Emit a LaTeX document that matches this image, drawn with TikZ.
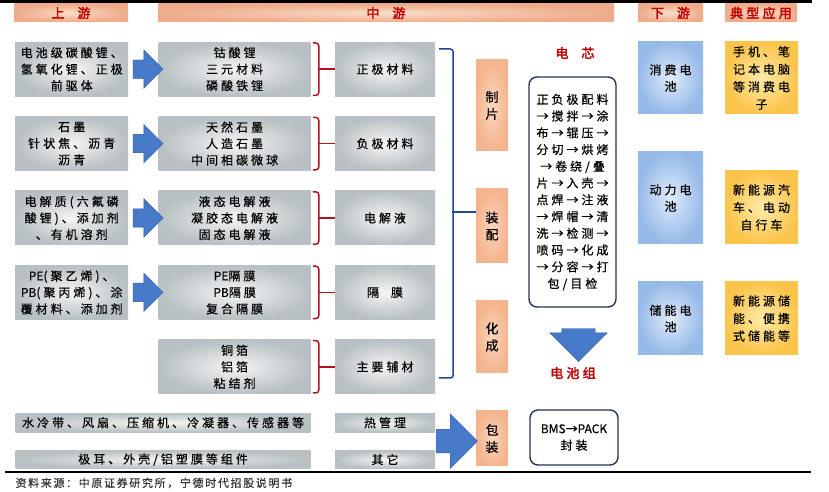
\documentclass[tikz,border=0pt]{standalone}
\usepackage{fontspec}
\setmainfont{Noto Sans CJK SC}[LetterSpace=25,FakeBold=0.5,AutoFakeBold=2.5]
\usepackage{tikz}
\usetikzlibrary{positioning,calc,shapes.arrows}

\definecolor{boxmid}{RGB}{245,245,245}
\definecolor{boxedge}{RGB}{184,192,195}
\definecolor{headmid}{RGB}{251,220,200}
\definecolor{headedge}{RGB}{238,172,138}
\definecolor{stepmid}{RGB}{251,214,188}
\definecolor{stepedge}{RGB}{244,180,142}
\definecolor{usemid}{RGB}{224,235,250}
\definecolor{useedge}{RGB}{150,186,232}
\definecolor{appmid}{RGB}{255,234,170}
\definecolor{appedge}{RGB}{252,196,74}
\definecolor{arrowblue}{RGB}{72,122,202}
\definecolor{arrowline}{RGB}{48,88,168}
\definecolor{titlered}{RGB}{192,0,0}
\definecolor{bracered}{RGB}{180,16,32}
\definecolor{braceblue}{RGB}{30,70,150}
\definecolor{cellline}{RGB}{40,50,80}

\newcommand{\tightlat}[1]{{\addfontfeature{LetterSpace=0}#1}}

\begin{document}
\begin{tikzpicture}[x=1pt, y=1pt,
  every node/.style={font=\fontsize{12}{16.5}\selectfont},
  graybox/.style={rectangle, inner sep=1pt, align=center, minimum height=54pt,
    shading=radial, inner color=boxmid, outer color=boxedge},
  headbox/.style={rectangle, inner sep=0pt, minimum height=18pt, text=titlered,
    font=\fontsize{13}{15}\selectfont\bfseries, shading=radial, inner color=headmid, outer color=headedge},
  stepbox/.style={rectangle, inner sep=0pt, minimum width=32pt, align=center,
    font=\fontsize{13}{17}\selectfont, shading=radial, inner color=stepmid, outer color=stepedge},
  usebox/.style={rectangle, inner sep=0pt, minimum width=65pt, align=center,
    shading=radial, inner color=usemid, outer color=useedge},
  appbox/.style={rectangle, inner sep=0pt, minimum width=73pt, minimum height=73pt, align=center,
    font=\fontsize{12}{17.5}\selectfont, shading=radial, inner color=appmid, outer color=appedge},
  blockarrow/.style={single arrow, fill=arrowblue, draw=arrowline, line width=0.4pt,
    inner xsep=0pt, inner ysep=9pt, minimum height=30pt, single arrow head extend=10pt},
  cellbox/.style={rectangle, rounded corners=8pt, draw=cellline, line width=1.4pt, fill=white, align=center},
  redtitle/.style={text=titlered, font=\fontsize{13}{15}\selectfont\bfseries},
  redbrace/.style={draw=bracered, line width=1.5pt, rounded corners=3pt},
  bluebrace/.style={draw=braceblue, line width=1.5pt, rounded corners=3pt}]

\useasboundingbox (0,0) rectangle (829,492);

% header
\draw[line width=3pt] (0,490.5) -- (812,490.5);
\node[headbox, minimum width=114pt] (hup) at (71,479) {上\quad 游};
\node[headbox, minimum width=456pt] (hmid) at (386,479) {中\quad 游};
\node[headbox, minimum width=65pt] (hdown) at (670.5,479) {下\quad 游};
\node[headbox, minimum width=72pt] (happ) at (761,479) {典型应用};

% upstream -> midstream materials
\node[graybox, minimum width=113pt, anchor=north west] (src1) at (15,450) {电池级碳酸锂、\\氢氧化锂、正极\\前驱体};
\node[graybox, minimum width=152pt, right=30pt of src1] (mid1) {钴酸锂\\三元材料\\磷酸铁锂};
\node[graybox, minimum width=100pt, right=24pt of mid1] (mat1) {正极材料};

\node[graybox, minimum width=113pt, below=20pt of src1] (src2) {石墨\\针状焦、沥青\\沥青};
\node[graybox, minimum width=152pt, below=20pt of mid1] (mid2) {天然石墨\\人造石墨\\中间相碳微球};
\node[graybox, minimum width=100pt, below=20pt of mat1] (mat2) {负极材料};

\node[graybox, minimum width=113pt, below=20pt of src2] (src3) {电解质(六氟磷\\酸锂)、添加剂\\、有机溶剂};
\node[graybox, minimum width=152pt, below=20pt of mid2] (mid3) {液态电解液\\凝胶态电解液\\固态电解液};
\node[graybox, minimum width=100pt, below=20pt of mat2] (mat3) {电解液};

\node[graybox, minimum width=113pt, below=20pt of src3] (src4) {\tightlat{PE}(聚乙烯)、\\\tightlat{PB}(聚丙烯)、涂\\覆材料、添加剂};
\node[graybox, minimum width=152pt, below=20pt of mid3] (mid4) {\tightlat{PE}隔膜\\\tightlat{PB}隔膜\\复合隔膜};
\node[graybox, minimum width=100pt, below=20pt of mat3] (mat4) {隔\quad 膜};

\node[graybox, minimum width=152pt, below=20pt of mid4] (mid5) {铜箔\\铝箔\\粘结剂};
\node[graybox, minimum width=100pt, below=20pt of mat4] (mat5) {主要辅材};

% pack parts
\node[graybox, minimum width=100pt, minimum height=19pt, below=19pt of mat5] (heat) {热管理};
\node[graybox, minimum width=100pt, minimum height=18pt, below=18pt of heat] (other) {其它};
\node[graybox, minimum width=295pt, minimum height=19pt, left=24pt of heat] (cooling) {水冷带、风扇、压缩机、冷凝器、传感器等};
\node[graybox, minimum width=295pt, minimum height=18pt, left=24pt of other] (shell) {极耳、外壳/铝塑膜等组件};

\foreach \i in {1,...,4}
  \node[blockarrow] (arr\i) at ($(src\i.east)!0.5!(mid\i.west)$) {};

\foreach \i in {1,...,5} {
  \draw[redbrace] ([xshift=2pt,yshift=-1pt]mid\i.north east) -- ++(6,0)
    -- ([xshift=8pt,yshift=1pt]mid\i.south east) -- ++(-6,0);
  \draw[redbrace] ([xshift=8pt]mid\i.east) -- (mat\i.west);
}

% process steps
\node[stepbox, minimum height=91pt] (sheet) at (492,386.5) {制\\片};
\node[stepbox, minimum height=74pt] (assembly) at (492,266) {装\\配};
\node[stepbox, minimum height=72pt] (formation) at (492,155) {化\\成};
\node[stepbox, minimum height=55pt] (packing) at (492,53.5) {包\\装};

\draw[bluebrace] ($(mat1.north east)+(4,-7)$) -- ++(14,0) |- ($(mat5.south east)+(4,16)$);
\draw[bluebrace] ([yshift=14pt]assembly.west) -- ++(-24,0);

\node[blockarrow, inner ysep=11.5pt, minimum height=41pt, single arrow head extend=15.5pt, anchor=west]
  (packarrow) at ($(heat.east)!0.5!(other.east)+(1,0)$) {};

% cell and pack
\node[redtitle] (celltitle) at (575,439) {电\quad 芯};
\node[cellbox, minimum width=87pt, minimum height=230pt, font=\fontsize{12}{16.75}\selectfont] (cell) at (572.5,300)
  {正负极配料\\→搅拌→涂\\布→辊压→\\分切→烘烤\\→卷绕/叠\\片→入壳→\\点焊→注液\\→焊帽→清\\洗→检测→\\喷码→化成\\→分容→打\\包/目检};
\node[blockarrow, inner xsep=16.5pt, inner ysep=0pt, minimum height=33pt, single arrow head extend=12pt, shape border rotate=270]
  (cellarrow) at ($(cell.south)+(6,-29)$) {};
\node[redtitle] (packtitle) at (573,119) {电池组};
\node[cellbox, minimum width=88pt, minimum height=55pt] (bms) at (574,54.5)
  {\tightlat{BMS→PACK}\\封装};

% downstream and applications
\node[usebox, minimum height=72pt] (use1) at (670.5,414) {消费电\\池};
\node[usebox, minimum height=92pt] (use2) at (670.5,294) {动力电\\池};
\node[usebox, minimum height=73pt] (use3) at (670.5,173.5) {储能电\\池};
\node[appbox, minimum height=72pt] (app1) at (761.5,414) {手机、笔\\记本电脑\\等消费电\\子};
\node[appbox] (app2) at (761.5,284.5) {新能源汽\\车、电动\\自行车};
\node[appbox] (app3) at (761.5,173.5) {新能源储\\能、便携\\式储能等};

% source
\draw[line width=2pt] (5,20) -- (811,20);
\node[anchor=west, text=black!80, font=\fontsize{11}{13}\selectfont\addfontfeature{LetterSpace=15}] (source) at (12,9)
  {资料来源：中原证券研究所，宁德时代招股说明书};

\end{tikzpicture}
\end{document}
